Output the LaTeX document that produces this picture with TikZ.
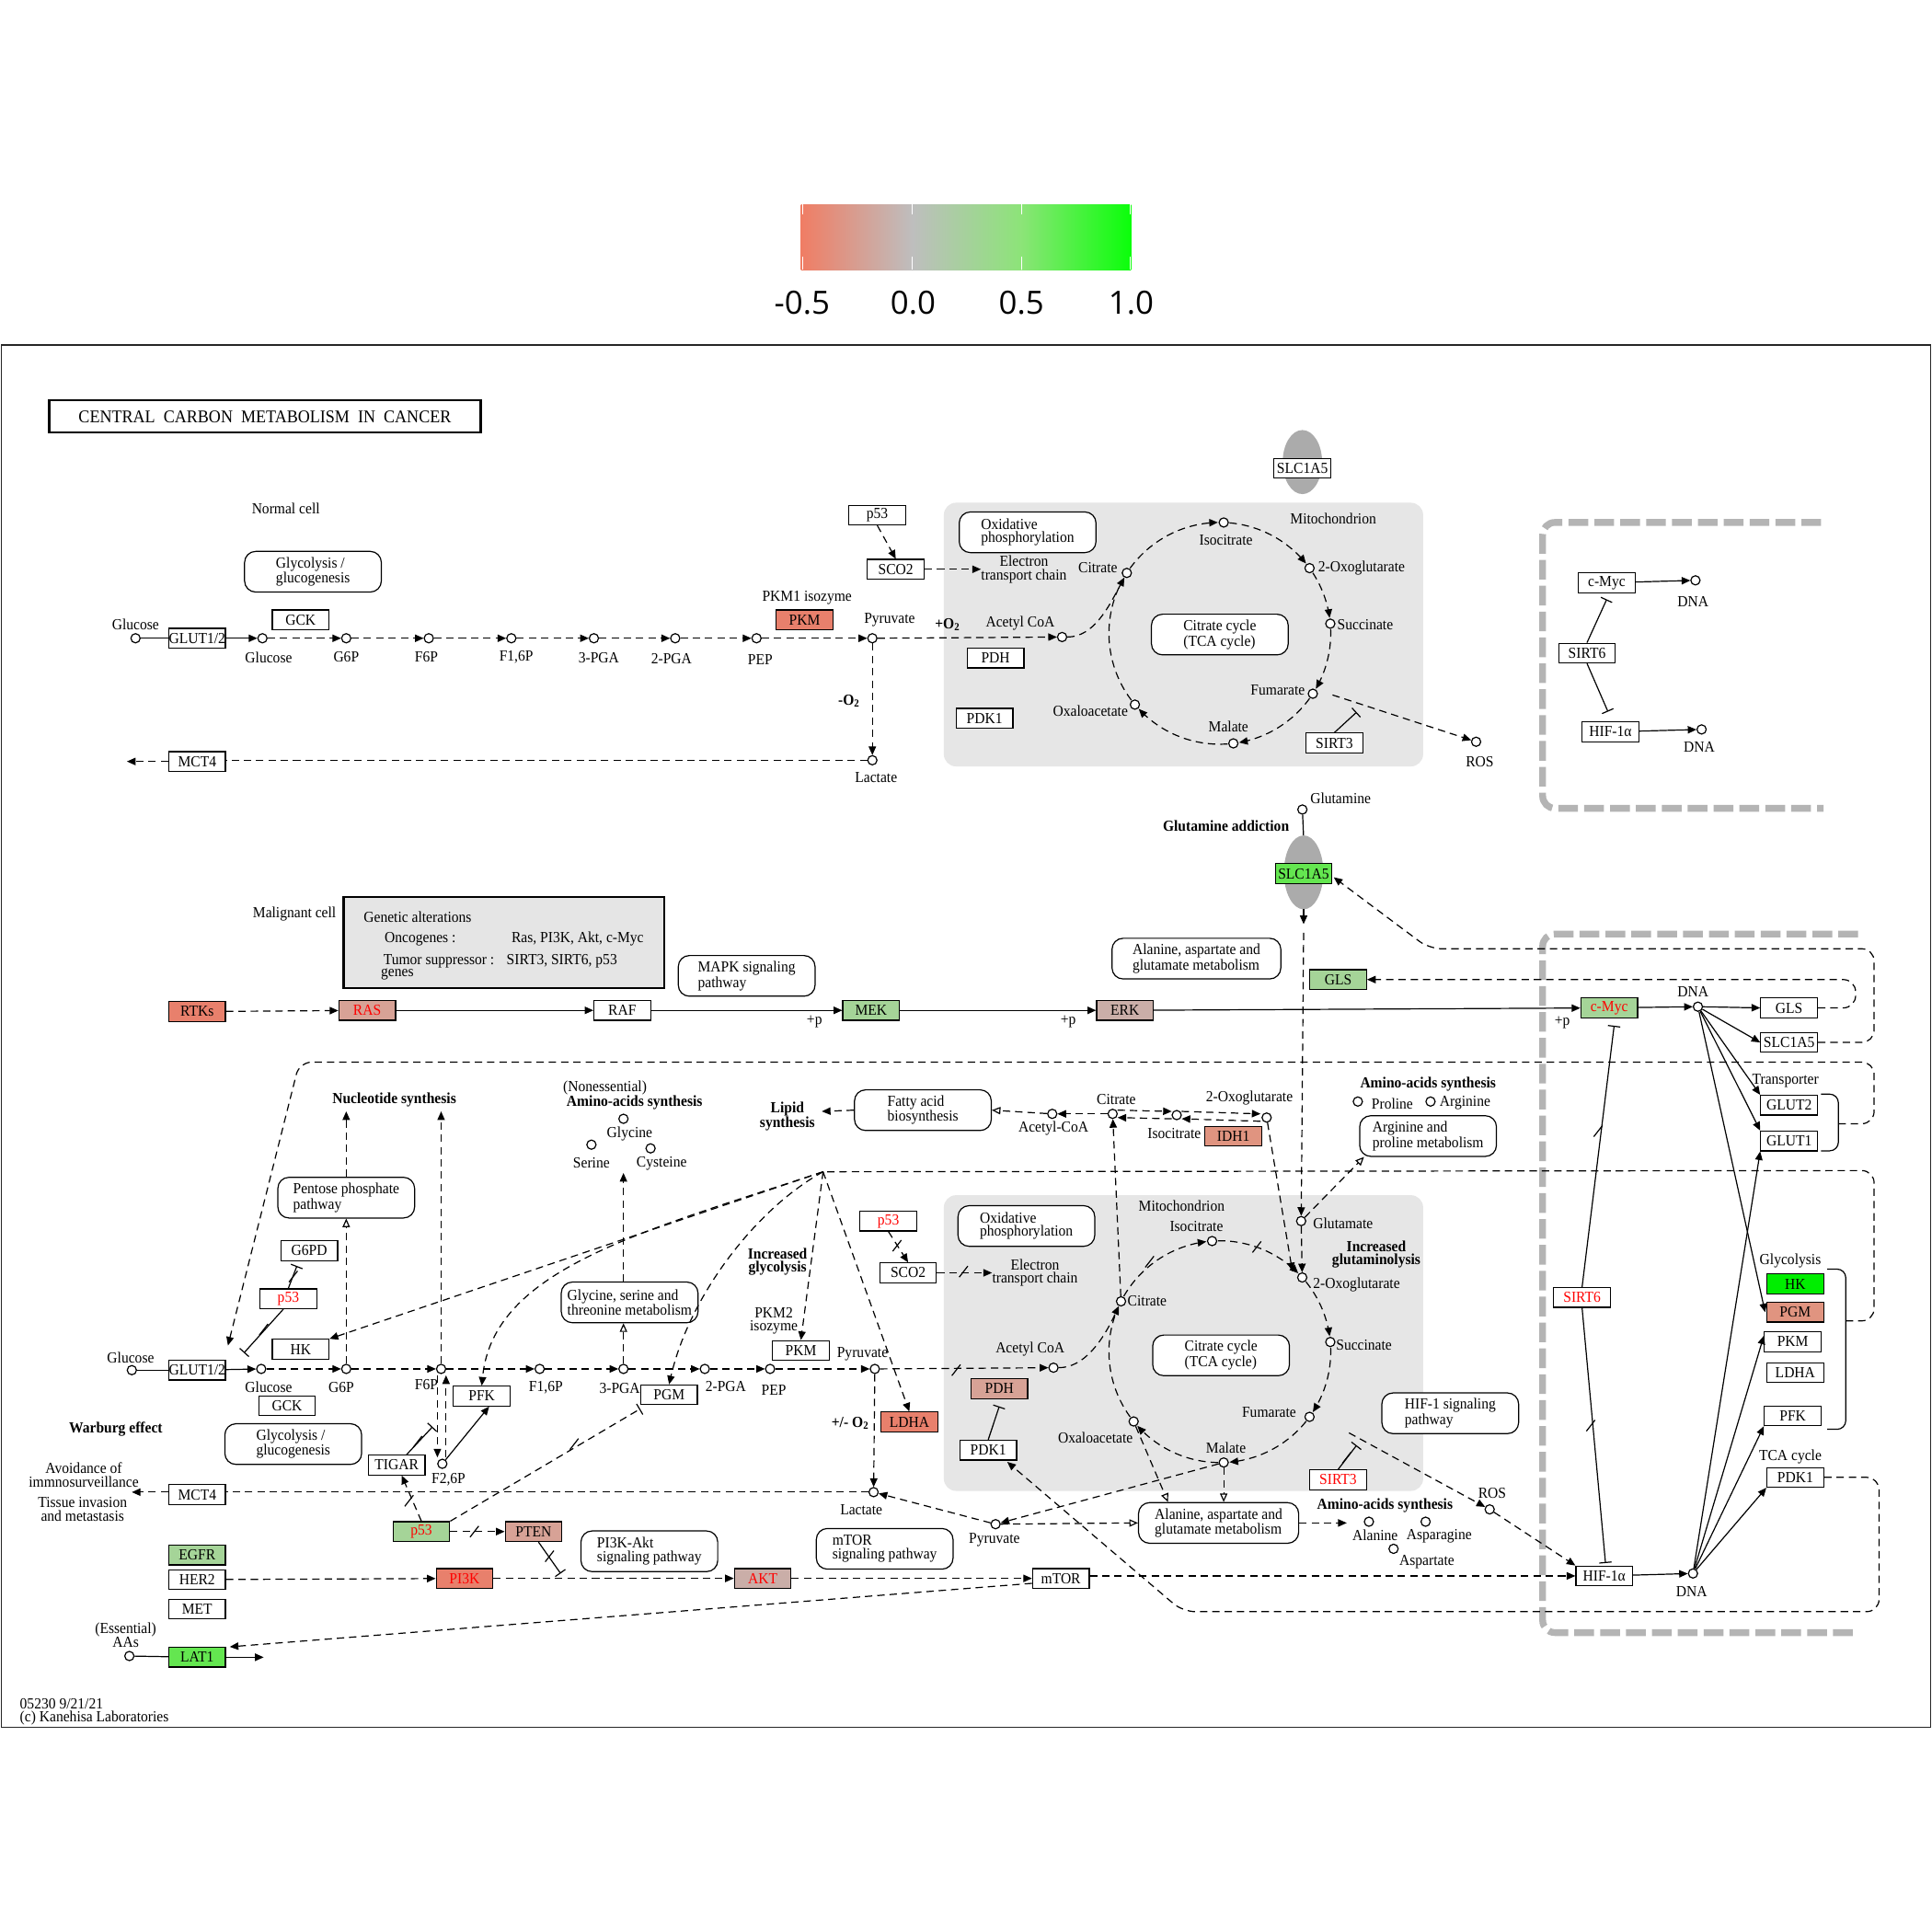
\documentclass[tikz,border=0pt]{standalone}
\usepackage{fontspec}
\setmainfont{Liberation Serif}[FakeStretch=0.93]
\newfontfamily\legendfont{Open Sans}
\usetikzlibrary{arrows.meta,calc}
\definecolor{salA}{RGB}{232,128,108}
\definecolor{salB}{RGB}{224,148,128}
\definecolor{rosy}{RGB}{215,162,150}
\definecolor{rosyg}{RGB}{202,174,168}
\definecolor{lgrn}{RGB}{165,212,152}
\definecolor{mgrn}{RGB}{100,230,80}
\definecolor{bgrn}{RGB}{0,238,0}
\definecolor{mito}{RGB}{230,230,230}
\definecolor{gdsh}{RGB}{180,180,180}
\definecolor{legA}{RGB}{240,125,100}
\definecolor{legB}{RGB}{190,190,190}
\definecolor{legC}{RGB}{140,228,120}
\definecolor{legD}{RGB}{10,255,10}
\newcommand\kf{\fontsize{12.5}{11}\selectfont}
\newcommand\kbf{\fontsize{12.5}{11}\selectfont\bfseries}
\newcommand\xtk[1]{\draw[ln] ($(#1)+(-3.5,4.5)$) -- ($(#1)+(3.5,-4.5)$);}
\newcommand\tarc[5]{\draw[dsh,#5] plot[smooth,domain=#3:#4,samples=24,variable=\t] ({#1+90*cos(\t)},{#2+90*sin(\t)});}
\begin{document}
\begin{tikzpicture}[x=1pt,y=-1pt,
  ln/.style={line width=0.9pt},
  dsh/.style={line width=0.9pt,dash pattern=on 6pt off 4pt},
  arr/.style={-{Triangle[length=7pt,width=6pt]}},
  oarr/.style={-{Triangle[open,length=7pt,width=6pt]}},
  inh/.style={-{Bar[width=10pt]}},
  gene/.style={draw,line width=0.9pt,rectangle,minimum width=46pt,minimum height=16pt,inner sep=0pt,font=\kf,fill=white},
  cpd/.style={draw,line width=0.9pt,circle,minimum size=7.5pt,inner sep=0pt,fill=white},
  mapbox/.style={draw,line width=0.9pt,rounded corners=9pt,minimum width=111pt,minimum height=33pt,inner sep=1pt,font=\kf,align=left,fill=white},
  lbl/.style={inner sep=0pt,font=\kf},
  lblc/.style={inner sep=0pt,font=\kf,align=center},
  blbl/.style={inner sep=0pt,font=\kbf,align=center},
  gdash/.style={line width=5.5pt,draw=gdsh,dash pattern=on 16pt off 5pt},
  legl/.style={inner sep=0pt,font=\legendfont\fontsize{26}{26}\selectfont}
]
\useasboundingbox (0,0) rectangle (1568,1568);
\fill[white] (0,0) rectangle (1568,1568);
% ---------- legend
\shade[left color=legA,right color=legB] (650,166) rectangle (740.5,219);
\shade[left color=legB,right color=legC] (740.5,166) rectangle (829,219);
\shade[left color=legC,right color=legD] (829,166) rectangle (918,219);
\foreach \xx in {651.5,740.5,829,917}{\draw[white,line width=0.8pt] (\xx,166) -- (\xx,174) (\xx,208) -- (\xx,219);}
\node[legl] (lg1) at (651,246) {-0.5};
\node[legl] (lg2) at (741,246) {0.0};
\node[legl] (lg3) at (829,246) {0.5};
\node[legl] (lg4) at (918,246) {1.0};
% ---------- frame
\draw[black!85,line width=0.8pt] (1,280) rectangle (1567,1402);
\node[draw,line width=1.8pt,minimum width=350pt,minimum height=26pt,inner sep=0pt,font=\fontsize{14.5}{14.5}\selectfont] (title) at (215,338) {CENTRAL\ \ CARBON\ \ METABOLISM\ \ IN\ \ CANCER};
% ---------- gray regions
\fill[mito,rounded corners=10pt] (766,408) rectangle (1155,622);
\fill[mito,rounded corners=10pt] (766,970) rectangle (1155,1210);
\draw[gdash,rounded corners=10pt] (1478,424) -- (1252,424) -- (1252,656) -- (1480,656);
\draw[gdash,rounded corners=10pt] (1508,758) -- (1252,758) -- (1252,1325) -- (1506,1325);

% ================= NORMAL CELL =================
\node[lbl] (tNormal) at (232,413) {Normal cell};
\node[cpd] (glc0) at (110,518) {};
\node[lbl] (tGlc0) at (110,507) {Glucose};
\node[gene] (glut0) at (160,518) {GLUT1/2};
\node[cpd] (glcA) at (213,518) {};
\node[lbl] (tGlcA) at (218,534) {Glucose};
\node[gene] (gckA) at (244,503) {GCK};
\node[mapbox] (glymapA) at (254,464) {Glycolysis /\\glucogenesis};
\node[cpd] (g6pA) at (281,518) {}; \node[lbl] (tG6pA) at (281,533) {G6P};
\node[cpd] (f6pA) at (348,518) {}; \node[lbl] (tF6pA) at (346,533) {F6P};
\node[cpd] (f16pA) at (415,518) {}; \node[lbl] (tF16pA) at (419,533) {F1,6P};
\node[cpd] (pgA3) at (482,518) {}; \node[lbl] (tPgA3) at (486,534) {3-PGA};
\node[cpd] (pgA2) at (548,518) {}; \node[lbl] (tPgA2) at (545,535) {2-PGA};
\node[cpd] (pepA) at (614,518) {}; \node[lbl] (tPepA) at (617,535) {PEP};
\node[gene,fill=salA] (pkmA) at (653,503) {PKM};
\node[lbl] (tPkm1) at (655,485) {PKM1 isozyme};
\node[cpd] (pyrA) at (708,518) {}; \node[lbl] (tPyrA) at (722,503) {Pyruvate};
\node[blbl] (tO2a) at (769,507) {+O\textsubscript{2}};
\node[cpd] (acoaA) at (862,517) {}; \node[lbl] (tAcoaA) at (828,506) {Acetyl CoA};
\node[gene] (pdhA) at (808,534) {PDH};
\node[cpd] (lacA) at (708,617) {}; \node[lbl] (tLacA) at (711,631) {Lactate};
\node[blbl] (tO2b) at (689,569) {-O\textsubscript{2}};
\node[gene] (mct4A) at (160,618) {MCT4};
\coordinate (mctendA) at (103,618);
\node[gene] (p53A) at (712,418) {p53};
\node[gene] (sco2A) at (727,462) {SCO2};
\node[lblc] (etcA) at (831,462) {Electron\\transport chain};
\draw[ln] (glc0) -- (glut0);
\draw[ln,arr] (glut0) -- (glcA);
\draw[dsh,arr] (glcA) -- (g6pA);
\draw[dsh,arr] (g6pA) -- (f6pA);
\draw[dsh,arr] (f6pA) -- (f16pA);
\draw[dsh,arr] (f16pA) -- (pgA3);
\draw[dsh,arr] (pgA3) -- (pgA2);
\draw[dsh,arr] (pgA2) -- (pepA);
\draw[dsh,arr] (pepA) -- (pyrA);
\draw[dsh,arr] (pyrA) -- (acoaA);
\draw[dsh,arr] (pyrA) -- (lacA);
\draw[dsh] (lacA.west) -- (lacA.west -| mct4A.east);
\draw[dsh,arr] (mct4A) -- (mctendA);
\draw[dsh,arr] (p53A.south) -- (sco2A.north);
\draw[dsh,arr] (sco2A) -- (etcA.west);
% mitochondrion (normal)
\node[lbl] (tMitoA) at (1082,421) {Mitochondrion};
\node[mapbox] (oxphA) at (834,432) {Oxidative\\phosphorylation};
\node[mapbox] (tcamapA) at (990,515) {Citrate cycle\\(TCA cycle)};
\coordinate (tcaA) at (990,514);
\tarc{990}{514}{216}{269}{arr}
\tarc{990}{514}{275}{321}{arr}
\tarc{990}{514}{327}{352}{arr}
\tarc{990}{514}{358}{390}{arr}
\tarc{990}{514}{36}{80}{arr}
\tarc{990}{514}{86}{137}{arr}
\tarc{990}{514}{143}{208}{}
\node[cpd] (citA) at ($(tcaA)+(213:90)$) {};
\node[cpd] (icitA) at ($(tcaA)+(272:90)$) {};
\node[cpd] (ogA) at ($(tcaA)+(324:90)$) {};
\node[cpd] (sucA) at ($(tcaA)+(355:90)$) {};
\node[cpd] (fumA) at ($(tcaA)+(33:90)$) {};
\node[cpd] (malA) at ($(tcaA)+(83:90)$) {};
\node[cpd] (oaaA) at ($(tcaA)+(140:90)$) {};
\node[lbl] (tCitA) at (891,461) {Citrate};
\node[lbl] (tIcitA) at (995,438) {Isocitrate};
\node[lbl] (tOgA) at (1105,461) {2-Oxoglutarate};
\node[lbl] (tSucA) at (1108,507) {Succinate};
\node[lbl] (tFumA) at (1037,560) {Fumarate};
\node[lbl] (tMalA) at (997,590) {Malate};
\node[lbl] (tOaaA) at (885,577) {Oxaloacetate};
\draw[dsh,arr] (acoaA) .. controls (888,517) and (900,492) .. (citA);
\node[gene] (pdk1A) at (799,583) {PDK1};
\node[gene] (sirt3A) at (1083,603) {SIRT3};
\node[cpd] (rosA) at (1198,602) {}; \node[lbl] (tRosA) at (1201,618) {ROS};
\draw[dsh,arr] ($(fumA)+(16,1)$) -- (rosA);
\draw[ln,inh] (sirt3A.north) -- (1101,578);
\fill[black!33] (1057,375) ellipse [x radius=16, y radius=26];
\node[gene] (slcA) at (1057,380) {SLC1A5};
% top right box
\node[gene] (cmycA) at (1304,473) {c-Myc};
\node[cpd] (dnaA) at (1376,471) {}; \node[lbl] (tDnaA) at (1374,488) {DNA};
\node[gene] (sirt6A) at (1288,530) {SIRT6};
\node[gene] (hifA) at (1307,594) {HIF-1α};
\node[cpd] (dnaB) at (1381,592) {}; \node[lbl] (tDnaB) at (1379,606) {DNA};
\draw[ln,arr] (cmycA) -- (dnaA);
\draw[ln,arr] (hifA) -- (dnaB);
\draw[ln,inh] (sirt6A.north) -- ($(cmycA.south)+(0,5)$);
\draw[ln,inh] (sirt6A.south) -- ($(hifA.north)+(-2,-8)$);

% ================= GLUTAMINE =================
\node[cpd] (glnA) at (1057,657) {}; \node[lbl] (tGln) at (1088,648) {Glutamine};
\node[blbl] (tGlnAdd) at (995,670) {Glutamine addiction};
\coordinate (slcGtop) at (1058,680);
\draw[ln] (glnA) -- (slcGtop);
\fill[black!33] (1058,708) ellipse [x radius=16, y radius=30];
\node[gene,fill=mgrn] (slcG) at (1058,709) {SLC1A5};
\coordinate (slcGbot) at (1058,738);
\coordinate (slcGarr) at (1058,750);
\coordinate (slcGd) at (1058,757);
\draw[ln,arr] (slcGbot) -- (slcGarr);

% ================= MALIGNANT =================
\node[lbl] (tMalig) at (239,742) {Malignant cell};
\node[draw,line width=1.8pt,fill=black!10,minimum width=260pt,minimum height=74pt,inner sep=0pt] (genalt) at (409,765) {};
\node[lbl,anchor=west] (tGA1) at (295,744) {Genetic alterations};
\node[lbl,anchor=west] (tGA2) at (312,762) {Oncogenes :};
\node[lbl,anchor=west] (tGA3) at (415,762) {Ras, PI3K, Akt, c-Myc};
\node[lbl,anchor=west] (tGA4) at (311,780) {Tumor suppressor :};
\node[lbl,anchor=west] (tGA5) at (411,780) {SIRT3, SIRT6, p53};
\node[lbl,anchor=west] (tGA6) at (309,791) {genes};
\node[mapbox] (mapk) at (606,792) {MAPK signaling\\pathway};
\node[gene,fill=salA] (rtks) at (160,821) {RTKs};
\node[gene,fill=rosy,text=red] (ras) at (298,820) {RAS};
\node[gene] (raf) at (505,820) {RAF};
\node[gene,fill=lgrn] (mek) at (707,820) {MEK};
\node[gene,fill=rosyg] (erk) at (913,820) {ERK};
\node[gene,fill=lgrn,text=red] (cmycB) at (1306,818) {c-Myc};
\node[cpd] (dnaC) at (1378,817) {}; \node[lbl] (tDnaC) at (1374,805) {DNA};
\draw[dsh,arr] (rtks) -- (ras);
\draw[ln,arr] (ras) -- (raf);
\draw[ln,arr] (raf) -- (mek);
\draw[ln,arr] (mek) -- (erk);
\draw[ln,arr] (erk) -- (cmycB);
\draw[ln,arr] (cmycB) -- (dnaC);
\node[lbl] (tP1) at (661,829) {+p};
\node[lbl] (tP2) at (867,829) {+p};
\node[lbl] (tP3) at (1268,830) {+p};
\node[mapbox,minimum width=137pt] (alamapA) at (971,778) {Alanine, aspartate and\\glutamate metabolism};
\node[gene,fill=lgrn] (glsG) at (1086,795) {GLS};
% right column
\node[gene] (glsR) at (1452,818) {GLS};
\node[gene] (slcR) at (1452,846) {SLC1A5};
\node[lbl] (tTrans) at (1449,877) {Transporter};
\node[gene] (glut2R) at (1452,897) {GLUT2};
\node[gene] (glut1R) at (1452,926) {GLUT1};
\node[lbl] (tGlyR) at (1453,1023) {Glycolysis};
\node[gene,fill=bgrn] (hkR) at (1457,1042) {HK};
\node[gene,fill=salB] (pgmR) at (1457,1065) {PGM};
\node[gene] (pkmR) at (1455,1089) {PKM};
\node[gene] (ldhaR) at (1457,1114) {LDHA};
\node[gene] (pfkR) at (1455,1149) {PFK};
\node[lbl] (tTcaR) at (1453,1182) {TCA cycle};
\node[gene] (pdk1R) at (1457,1199) {PDK1};
\node[gene,text=red] (sirt6B) at (1284,1053) {SIRT6};
\node[gene] (hifB) at (1302,1279) {HIF-1α};
\node[cpd] (dnaD) at (1374,1277) {}; \node[lbl] (tDnaD) at (1373,1292) {DNA};
\draw[ln,arr] (dnaC) -- (glsR.west);
\draw[ln,arr] (dnaC) -- (slcR.west);
\draw[ln,arr] (dnaC) -- (glut2R.north west);
\draw[ln,arr] (dnaC) -- (glut1R.north west);
\draw[ln,arr] (dnaC) -- ($(pgmR.west)+(-1,0)$);
\draw[ln,arr] (dnaD) -- (glut1R.south west);
\draw[ln,arr] (dnaD) -- ($(pkmR.west)+(0,-5)$);
\draw[ln,arr] (dnaD) -- (pfkR.south west);
\draw[ln,arr] (dnaD) -- (pdk1R.south west);
\draw[ln,arr] (hifB) -- (dnaD);
\draw[ln,inh] (sirt6B.north) -- ($(cmycB.south)+(4,6)$);
\draw[ln,inh] (sirt6B.south) -- ($(hifB.north)+(1,-2)$);
\xtk{1297,918}
\xtk{1291,1157}
\draw[ln,rounded corners=7pt] (1478,888) -- (1492,888) -- (1492,934) -- (1478,934);
\draw[ln,rounded corners=7pt] (1483,1030) -- (1498,1030) -- (1498,1160) -- (1483,1160);
\draw[dsh,arr,rounded corners=10pt] (glsR.east) -- (1506,818) -- (1506,795) -- (glsG.east);
\draw[dsh,arr,rounded corners=10pt] (slcR.east) -- (1521,846) -- (1521,770) -- (1160,770) -- ($(slcG.east)+(1,3)$);

% ================= LIPID / AA SYNTHESIS =================
\node[cpd] (citL) at (903,904) {}; \node[lbl] (tCitL) at (906,892) {Citrate};
\node[cpd] (icitL) at (955,905) {}; \node[lbl] (tIcitL) at (953,920) {Isocitrate};
\node[cpd] (ogL) at (1028,907) {}; \node[lbl] (tOgL) at (1014,891) {2-Oxoglutarate};
\node[cpd] (acoaL) at (854,904) {}; \node[lbl] (tAcoaL) at (855,916) {Acetyl-CoA};
\node[gene,fill=salB] (idh1) at (1001,922) {IDH1};
\node[mapbox] (fatty) at (749,901) {Fatty acid\\biosynthesis};
\node[blbl] (tLipid) at (639,906) {Lipid\\synthesis};
\coordinate (lipidEnd) at (667,902);
\draw[dsh,arr] ($(citL)+(4,-3)$) -- ($(icitL)+(-4,-3)$);
\draw[dsh,arr] ($(icitL)+(-4,3)$) -- ($(citL)+(4,3)$);
\draw[dsh,arr] ($(icitL)+(4,-3)$) -- ($(ogL)+(-5,-3)$);
\draw[dsh,arr] ($(ogL)+(-5,3)$) -- ($(icitL)+(4,3)$);
\draw[dsh,arr] (citL) -- (acoaL);
\draw[dsh,oarr] (acoaL) -- (fatty.east);
\draw[dsh,arr] (fatty.west) -- (lipidEnd);
\node[lbl] (tNoness) at (491,883) {(Nonessential)};
\node[blbl] (tAAsyn) at (515,895) {Amino-acids synthesis};
\node[cpd] (glyc) at (506,908) {}; \node[lbl] (tGlyc) at (511,920) {Glycine};
\node[cpd] (ser) at (480,929) {}; \node[lbl] (tSer) at (480,944) {Serine};
\node[cpd] (cys) at (528,932) {}; \node[lbl] (tCys) at (537,944) {Cysteine};
\node[mapbox] (glyser) at (511,1057) {Glycine, serine and\\threonine metabolism};
\coordinate (aaEnd) at (506,952);
\draw[dsh,arr] ($(glyser.north)+(-5,0)$) -- (aaEnd);
\node[blbl] (tNuc) at (320,893) {Nucleotide synthesis};
\coordinate (nucE1) at (281,902);
\coordinate (nucE2) at (358,902);
\node[mapbox] (pentose) at (281,972) {Pentose phosphate\\pathway};
\draw[dsh,arr] (pentose.north) -- (nucE1);
\node[blbl] (tAAsyn3) at (1159,880) {Amino-acids synthesis};
\node[cpd] (pro) at (1102,894) {}; \node[lbl] (tPro) at (1130,896) {Proline};
\node[cpd] (arg) at (1161,894) {}; \node[lbl] (tArg) at (1189,895) {Arginine};
\node[mapbox] (argpro) at (1159,922) {Arginine and\\proline metabolism};

% ================= MALIGNANT GLYCOLYSIS =================
\node[cpd] (glc1) at (107,1112) {}; \node[lbl] (tGlc1) at (106,1102) {Glucose};
\node[gene] (glut1) at (160,1112) {GLUT1/2};
\node[cpd] (glcB) at (212,1111) {}; \node[lbl] (tGlcB) at (218,1126) {Glucose};
\node[gene] (hkB) at (244,1095) {HK};
\node[gene] (gckB) at (233,1141) {GCK};
\node[cpd] (g6pB) at (281,1111) {}; \node[lbl] (tG6pB) at (277,1126) {G6P};
\node[cpd] (f6pB) at (358,1111) {}; \node[lbl] (tF6pB) at (346,1124) {F6P};
\node[cpd] (f16pB) at (438,1111) {}; \node[lbl] (tF16pB) at (443,1126) {F1,6P};
\node[cpd] (pgB3) at (506,1111) {}; \node[lbl] (tPgB3) at (503,1127) {3-PGA};
\node[cpd] (pgB2) at (572,1111) {}; \node[lbl] (tPgB2) at (589,1125) {2-PGA};
\node[cpd] (pepB) at (625,1111) {}; \node[lbl] (tPepB) at (628,1128) {PEP};
\node[cpd] (pyrB) at (710,1111) {}; \node[lbl] (tPyrB) at (700,1099) {Pyruvate};
\node[gene] (pfkB) at (391,1133) {PFK};
\node[gene] (pgmB) at (543,1132) {PGM};
\node[gene] (pkmB) at (650,1096) {PKM};
\node[lblc] (tPkm2) at (628,1072) {PKM2\\isozyme};
\node[gene,fill=salA] (ldhaB) at (738,1154) {LDHA};
\node[cpd] (f26p) at (359,1188) {}; \node[lbl] (tF26p) at (364,1201) {F2,6P};
\node[gene] (tigar) at (322,1189) {TIGAR};
\node[gene,fill=lgrn,text=red] (p53C) at (342,1243) {p53};
\node[gene,fill=rosy] (pten) at (433,1243) {PTEN};
\node[gene] (g6pd) at (251,1015) {G6PD};
\node[gene,text=red] (p53B) at (234,1054) {p53};
\node[blbl] (tWarburg) at (94,1160) {Warburg effect};
\node[mapbox] (glymapB) at (238,1172) {Glycolysis /\\glucogenesis};
\node[cpd] (lacB) at (709,1211) {}; \node[lbl] (tLacB) at (699,1225) {Lactate};
\node[blbl] (tO2c) at (690,1155) {+/- O\textsubscript{2}};
\node[gene] (mct4B) at (160,1213) {MCT4};
\coordinate (mctendB) at (107,1211);
\node[lblc] (tAvoid) at (68,1197) {Avoidance of\\immnosurveillance};
\node[lblc] (tTissue) at (67,1225) {Tissue invasion\\and metastasis};
\draw[ln] (glc1) -- (glut1);
\draw[ln,arr] (glut1) -- (glcB);
\draw[dsh,arr] (glcB) -- (g6pB);
\draw[dsh,arr] (g6pB) -- (f6pB);
\draw[dsh,arr] (f6pB) -- (f16pB);
\draw[dsh,arr] (f16pB) -- (pgB3);
\draw[dsh,arr] (pgB3) -- (pgB2);
\draw[dsh,arr] (pgB2) -- (pepB);
\draw[dsh,arr] (pepB) -- (pyrB);
\draw[dsh,arr] (pyrB) -- (lacB);
\draw[dsh] (lacB.west) -- (lacB.west -| mct4B.east);
\draw[dsh,arr] (mct4B.west |- mctendB) -- (mctendB);
\draw[dsh,oarr] (g6pB) -- (pentose.south);
\draw[dsh,arr] (f6pB) -- (nucE2);
\draw[dsh,oarr] (pgB3) -- ($(glyser.south)+(-5,0)$);
\draw[dsh,arr] ($(f6pB.south)+(-3,1)$) -- ($(f26p.north)+(-4,-1)$);
\draw[dsh,arr] ($(f26p.north)+(3,-1)$) -- ($(f6pB.south)+(4,1)$);
\draw[ln,arr] (f26p) -- ($(pfkB.south)+(6,0)$);
\draw[ln,inh] ($(tigar.north)+(8,0)$) -- (351,1158); \xtk{339,1170}
\draw[dsh,arr] (p53C.north) -- ($(tigar.south)+(4,0)$); \xtk{332,1218}
\draw[dsh,arr] (p53C) -- (pten); \xtk{385,1243}
\draw[dsh,inh] (p53C.north east) -- ($(pgmB.south west)+(0,3)$); \xtk{466,1172}
\draw[ln,inh] ($(pten.south)+(4,0)$) -- (455,1277); \xtk{446,1263}
\draw[ln,inh] (p53B.north) -- ($(g6pd.south)+(-10,4)$); \xtk{238,1036}
\draw[ln,inh] ($(p53B.south)+(-4,0)$) -- (198,1098); \xtk{214,1079}
% fan of regulation
\coordinate (apex) at (668,951);
\draw[dsh,rounded corners=10pt] (1498,1072) -- (1521,1072) -- (1521,950) -- (apex);
\draw[dsh,arr] (apex) -- (hkB.north east);
\draw[dsh,arr] (apex) .. controls (520,1000) and (400,1030) .. (pfkB.north);
\draw[dsh,arr] (apex) .. controls (615,980) and (560,1050) .. (pgmB.north);
\draw[dsh,arr] (apex) -- (pkmB.north);
\draw[dsh,arr] (apex) -- (ldhaB.north);
\coordinate (glTip) at (185,1092);
\draw[dsh,arr,rounded corners=10pt] (1492,912) -- (1521,912) -- (1521,862) -- (243,862) -- (glTip);
\node[blbl] (tIncGly) at (631,1024) {Increased\\glycolysis};

% ================= MITOCHONDRION (malignant) =================
\node[lbl] (tMitoB) at (959,979) {Mitochondrion};
\node[mapbox] (oxphB) at (833,995) {Oxidative\\phosphorylation};
\node[mapbox] (tcamapB) at (991,1100) {Citrate cycle\\(TCA cycle)};
\coordinate (tcaB) at (990,1097);
\tarc{990}{1097}{210}{263}{arr}
\tarc{990}{1097}{269}{315}{arr}
\tarc{990}{1097}{321}{352}{arr}
\tarc{990}{1097}{358}{393}{arr}
\tarc{990}{1097}{39}{85}{arr}
\tarc{990}{1097}{91}{138}{arr}
\tarc{990}{1097}{144}{203}{}
\node[cpd] (citB) at ($(tcaB)+(207:90)$) {};
\node[cpd] (icitB) at ($(tcaB)+(266:90)$) {};
\node[cpd] (ogB) at ($(tcaB)+(318:90)$) {};
\node[cpd] (sucB) at ($(tcaB)+(355:90)$) {};
\node[cpd] (fumB) at ($(tcaB)+(36:90)$) {};
\node[cpd] (malB) at ($(tcaB)+(88:90)$) {};
\node[cpd] (oaaB) at ($(tcaB)+(141:90)$) {};
\xtk{933,1024}
\xtk{1020,1012}
\node[lbl] (tIcitB) at (971,995) {Isocitrate};
\node[lbl] (tCitB) at (931,1056) {Citrate};
\node[lbl] (tOgB) at (1101,1043) {2-Oxoglutarate};
\node[lbl] (tSucB) at (1107,1092) {Succinate};
\node[lbl] (tFumB) at (1030,1146) {Fumarate};
\node[lbl] (tMalB) at (995,1175) {Malate};
\node[lbl] (tOaaB) at (889,1167) {Oxaloacetate};
\node[cpd] (acoaB) at (855,1110) {}; \node[lbl] (tAcoaB) at (836,1095) {Acetyl CoA};
\draw[dsh,arr] (pyrB) -- (acoaB); \xtk{776,1112}
\draw[dsh,arr] (acoaB) .. controls (880,1110) and (895,1088) .. (citB);
\node[gene,fill=rosy] (pdhB) at (811,1127) {PDH};
\node[gene] (pdk1B) at (802,1177) {PDK1};
\draw[ln,inh] (pdk1B.north) -- ($(pdhB.south)+(0,6)$);
\node[gene,text=red] (p53D) at (721,991) {p53};
\node[gene] (sco2B) at (737,1033) {SCO2};
\node[lblc] (etcB) at (840,1033) {Electron\\transport chain};
\draw[dsh,arr] (p53D.south) -- (sco2B.north); \xtk{728,1011}
\draw[dsh,arr] (sco2B) -- (etcB.west); \xtk{782,1032}
\draw[dsh,arr] (citB) -- (citL);
\node[cpd] (gluB) at (1056,991) {}; \node[lbl] (tGlu) at (1090,993) {Glutamate};
\draw[dsh,arr] (slcGd) -- (gluB);
\draw[dsh,arr] (gluB) -- (ogB);
\draw[dsh,arr] (ogL) -- ($(ogB)+(-8,-5)$);
\draw[dsh,oarr] (gluB) -- ($(argpro.south west)+(4,0)$);
\node[blbl] (tIncGln) at (1117,1018) {Increased\\glutaminolysis};
\node[gene,text=red] (sirt3B) at (1086,1201) {SIRT3};
\node[mapbox] (hif1map) at (1177,1147) {HIF-1 signaling\\pathway};
\node[cpd] (rosB) at (1209,1225) {}; \node[lbl] (tRosB) at (1211,1212) {ROS};
\draw[dsh,arr] ($(fumB)+(32,13)$) -- (rosB);
\draw[ln,inh] (sirt3B.north) -- (1101,1173); \xtk{1093,1183}
\draw[dsh,arr] (rosB) -- (hifB.north west);
\node[cpd] (pyrC) at (808,1237) {}; \node[lbl] (tPyrC) at (807,1250) {Pyruvate};
\node[mapbox,minimum width=130pt] (alamapB) at (989,1236) {Alanine, aspartate and\\glutamate metabolism};
\draw[dsh,arr] (malB) -- (pyrC);
\draw[dsh,arr] (pyrC) -- (lacB);
\draw[dsh,oarr] (pyrC) -- (alamapB.west);
\draw[dsh,oarr] (oaaB) -- ($(alamapB.north)+(-41,0)$);
\draw[dsh,oarr] (malB) -- (malB |- alamapB.north);
\coordinate (aaEnd2) at (1093,1236);
\draw[dsh,arr] (alamapB.east) -- (aaEnd2);
\node[blbl] (tAAsyn2) at (1124,1222) {Amino-acids synthesis};
\node[cpd] (ala) at (1111,1235) {}; \node[lbl] (tAla) at (1116,1246) {Alanine};
\node[cpd] (asn) at (1157,1235) {}; \node[lbl] (tAsn) at (1168,1247) {Asparagine};
\node[cpd] (asp) at (1131,1257) {}; \node[lbl] (tAsp) at (1158,1268) {Aspartate};
\draw[dsh,arr,rounded corners=10pt] (pdk1R.east) -- (1525,1199) -- (1525,1308) -- (960,1308) -- ($(pdk1B.south east)+(-8,1)$);

% ================= SIGNALING (bottom) =================
\node[gene,fill=lgrn] (egfr) at (160,1262) {EGFR};
\node[gene] (her2) at (160,1282) {HER2};
\node[gene] (met) at (160,1306) {MET};
\node[gene,fill=salA,text=red] (pi3k) at (377,1281) {PI3K};
\node[gene,fill=rosyg,text=red] (akt) at (619,1281) {AKT};
\node[gene] (mtor) at (861,1281) {mTOR};
\node[mapbox] (pi3kmap) at (527,1259) {PI3K-Akt\\signaling pathway};
\node[mapbox] (mtormap) at (718,1257) {mTOR\\signaling pathway};
\node[gene,fill=mgrn] (lat1) at (160,1345) {LAT1};
\node[cpd] (eaa) at (105,1344) {};
\node[lblc] (tEaa) at (102,1327) {(Essential)\\AAs};
\coordinate (latOut) at (214,1345);
\draw[dsh,arr] (her2) -- (pi3k);
\draw[dsh,arr] (pi3k) -- (akt);
\draw[dsh,arr] (akt) -- (mtor);
\draw[dsh,arr] ($(mtor.east)+(0,-2)$) -- (hifB.west);
\draw[dsh,arr] ($(mtor.west)+(0,4)$) -- ($(lat1.north east)+(3,0)$);
\draw[ln] (eaa) -- (lat1);
\draw[ln,arr] (lat1) -- (latOut);
\node[lbl,anchor=west] (tFoot1) at (16,1383) {05230 9/21/21};
\node[lbl,anchor=west] (tFoot2) at (16,1394) {(c) Kanehisa Laboratories};
\end{tikzpicture}
\end{document}
